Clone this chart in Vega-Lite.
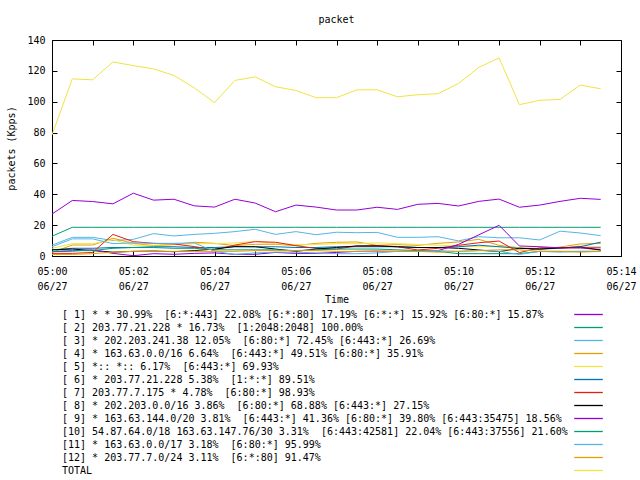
{
  "$schema": "https://vega.github.io/schema/vega-lite/v6.json",
  "width": 569,
  "height": 216,
  "autosize": "none",
  "padding": {"left": 52, "top": 40, "right": 19, "bottom": 224},
  "background": "white",
  "title": {"text": "packet", "fontSize": 10, "fontWeight": "normal", "font": "DejaVu Sans Mono", "color": "black", "offset": 10, "anchor": "middle"},
  "data": {"values": [
      {"t":"2024-06-27T05:00:00","k":1,"v":27.2},{"t":"2024-06-27T05:00:30","k":1,"v":36},{"t":"2024-06-27T05:01:00","k":1,"v":35.3},{"t":"2024-06-27T05:01:30","k":1,"v":33.8},{"t":"2024-06-27T05:02:00","k":1,"v":40.7},{"t":"2024-06-27T05:02:30","k":1,"v":36.2},{"t":"2024-06-27T05:03:00","k":1,"v":36.8},{"t":"2024-06-27T05:03:30","k":1,"v":32.5},{"t":"2024-06-27T05:04:00","k":1,"v":31.7},{"t":"2024-06-27T05:04:30","k":1,"v":36.8},{"t":"2024-06-27T05:05:00","k":1,"v":34.3},{"t":"2024-06-27T05:05:30","k":1,"v":28.7},{"t":"2024-06-27T05:06:00","k":1,"v":33},{"t":"2024-06-27T05:06:30","k":1,"v":31.7},{"t":"2024-06-27T05:07:00","k":1,"v":29.8},{"t":"2024-06-27T05:07:30","k":1,"v":29.8},{"t":"2024-06-27T05:08:00","k":1,"v":31.6},{"t":"2024-06-27T05:08:30","k":1,"v":30.2},{"t":"2024-06-27T05:09:00","k":1,"v":33.5},{"t":"2024-06-27T05:09:30","k":1,"v":34.1},{"t":"2024-06-27T05:10:00","k":1,"v":32.4},{"t":"2024-06-27T05:10:30","k":1,"v":35.4},{"t":"2024-06-27T05:11:00","k":1,"v":36.9},{"t":"2024-06-27T05:11:30","k":1,"v":31.6},{"t":"2024-06-27T05:12:00","k":1,"v":33},{"t":"2024-06-27T05:12:30","k":1,"v":35.4},{"t":"2024-06-27T05:13:00","k":1,"v":37.4},{"t":"2024-06-27T05:13:30","k":1,"v":36.7},
      {"t":"2024-06-27T05:00:00","k":2,"v":12.8},{"t":"2024-06-27T05:00:30","k":2,"v":18.6},{"t":"2024-06-27T05:01:00","k":2,"v":18.6},{"t":"2024-06-27T05:01:30","k":2,"v":18.6},{"t":"2024-06-27T05:02:00","k":2,"v":18.6},{"t":"2024-06-27T05:02:30","k":2,"v":18.6},{"t":"2024-06-27T05:03:00","k":2,"v":18.6},{"t":"2024-06-27T05:03:30","k":2,"v":18.6},{"t":"2024-06-27T05:04:00","k":2,"v":18.6},{"t":"2024-06-27T05:04:30","k":2,"v":18.6},{"t":"2024-06-27T05:05:00","k":2,"v":18.6},{"t":"2024-06-27T05:05:30","k":2,"v":18.6},{"t":"2024-06-27T05:06:00","k":2,"v":18.6},{"t":"2024-06-27T05:06:30","k":2,"v":18.6},{"t":"2024-06-27T05:07:00","k":2,"v":18.6},{"t":"2024-06-27T05:07:30","k":2,"v":18.6},{"t":"2024-06-27T05:08:00","k":2,"v":18.6},{"t":"2024-06-27T05:08:30","k":2,"v":18.6},{"t":"2024-06-27T05:09:00","k":2,"v":18.6},{"t":"2024-06-27T05:09:30","k":2,"v":18.6},{"t":"2024-06-27T05:10:00","k":2,"v":18.6},{"t":"2024-06-27T05:10:30","k":2,"v":18.6},{"t":"2024-06-27T05:11:00","k":2,"v":18.6},{"t":"2024-06-27T05:11:30","k":2,"v":18.6},{"t":"2024-06-27T05:12:00","k":2,"v":18.6},{"t":"2024-06-27T05:12:30","k":2,"v":18.6},{"t":"2024-06-27T05:13:00","k":2,"v":18.6},{"t":"2024-06-27T05:13:30","k":2,"v":18.6},
      {"t":"2024-06-27T05:00:00","k":3,"v":7},{"t":"2024-06-27T05:00:30","k":3,"v":12.1},{"t":"2024-06-27T05:01:00","k":3,"v":12.1},{"t":"2024-06-27T05:01:30","k":3,"v":10},{"t":"2024-06-27T05:02:00","k":3,"v":10.8},{"t":"2024-06-27T05:02:30","k":3,"v":14.5},{"t":"2024-06-27T05:03:00","k":3,"v":13},{"t":"2024-06-27T05:03:30","k":3,"v":14},{"t":"2024-06-27T05:04:00","k":3,"v":14.7},{"t":"2024-06-27T05:04:30","k":3,"v":15.8},{"t":"2024-06-27T05:05:00","k":3,"v":17.3},{"t":"2024-06-27T05:05:30","k":3,"v":14},{"t":"2024-06-27T05:06:00","k":3,"v":15.8},{"t":"2024-06-27T05:06:30","k":3,"v":13.8},{"t":"2024-06-27T05:07:00","k":3,"v":15.4},{"t":"2024-06-27T05:07:30","k":3,"v":15.1},{"t":"2024-06-27T05:08:00","k":3,"v":15.3},{"t":"2024-06-27T05:08:30","k":3,"v":12.1},{"t":"2024-06-27T05:09:00","k":3,"v":12.1},{"t":"2024-06-27T05:09:30","k":3,"v":12.5},{"t":"2024-06-27T05:10:00","k":3,"v":9.8},{"t":"2024-06-27T05:10:30","k":3,"v":12.5},{"t":"2024-06-27T05:11:00","k":3,"v":11.8},{"t":"2024-06-27T05:11:30","k":3,"v":11.8},{"t":"2024-06-27T05:12:00","k":3,"v":10.4},{"t":"2024-06-27T05:12:30","k":3,"v":16.1},{"t":"2024-06-27T05:13:00","k":3,"v":14.9},{"t":"2024-06-27T05:13:30","k":3,"v":13.2},
      {"t":"2024-06-27T05:00:00","k":4,"v":2.3},{"t":"2024-06-27T05:00:30","k":4,"v":7.1},{"t":"2024-06-27T05:01:00","k":4,"v":7.1},{"t":"2024-06-27T05:01:30","k":4,"v":11.5},{"t":"2024-06-27T05:02:00","k":4,"v":8.2},{"t":"2024-06-27T05:02:30","k":4,"v":6.7},{"t":"2024-06-27T05:03:00","k":4,"v":7.4},{"t":"2024-06-27T05:03:30","k":4,"v":8.9},{"t":"2024-06-27T05:04:00","k":4,"v":8.2},{"t":"2024-06-27T05:04:30","k":4,"v":6.7},{"t":"2024-06-27T05:05:00","k":4,"v":7.6},{"t":"2024-06-27T05:05:30","k":4,"v":7.6},{"t":"2024-06-27T05:06:00","k":4,"v":6.7},{"t":"2024-06-27T05:06:30","k":4,"v":8.2},{"t":"2024-06-27T05:07:00","k":4,"v":8.9},{"t":"2024-06-27T05:07:30","k":4,"v":9.1},{"t":"2024-06-27T05:08:00","k":4,"v":6.9},{"t":"2024-06-27T05:08:30","k":4,"v":7.4},{"t":"2024-06-27T05:09:00","k":4,"v":6.9},{"t":"2024-06-27T05:09:30","k":4,"v":8.2},{"t":"2024-06-27T05:10:00","k":4,"v":9.1},{"t":"2024-06-27T05:10:30","k":4,"v":10.8},{"t":"2024-06-27T05:11:00","k":4,"v":6.9},{"t":"2024-06-27T05:11:30","k":4,"v":5.3},{"t":"2024-06-27T05:12:00","k":4,"v":4.3},{"t":"2024-06-27T05:12:30","k":4,"v":5.8},{"t":"2024-06-27T05:13:00","k":4,"v":7.8},{"t":"2024-06-27T05:13:30","k":4,"v":8.2},
      {"t":"2024-06-27T05:00:00","k":5,"v":5},{"t":"2024-06-27T05:00:30","k":5,"v":8},{"t":"2024-06-27T05:01:00","k":5,"v":8},{"t":"2024-06-27T05:01:30","k":5,"v":10.5},{"t":"2024-06-27T05:02:00","k":5,"v":7},{"t":"2024-06-27T05:02:30","k":5,"v":7},{"t":"2024-06-27T05:03:00","k":5,"v":7.5},{"t":"2024-06-27T05:03:30","k":5,"v":8},{"t":"2024-06-27T05:04:00","k":5,"v":8},{"t":"2024-06-27T05:04:30","k":5,"v":8.5},{"t":"2024-06-27T05:05:00","k":5,"v":9.5},{"t":"2024-06-27T05:05:30","k":5,"v":8},{"t":"2024-06-27T05:06:00","k":5,"v":7.5},{"t":"2024-06-27T05:06:30","k":5,"v":7.5},{"t":"2024-06-27T05:07:00","k":5,"v":8},{"t":"2024-06-27T05:07:30","k":5,"v":8},{"t":"2024-06-27T05:08:00","k":5,"v":8.5},{"t":"2024-06-27T05:08:30","k":5,"v":8},{"t":"2024-06-27T05:09:00","k":5,"v":7.5},{"t":"2024-06-27T05:09:30","k":5,"v":7},{"t":"2024-06-27T05:10:00","k":5,"v":6.5},{"t":"2024-06-27T05:10:30","k":5,"v":6},{"t":"2024-06-27T05:11:00","k":5,"v":6},{"t":"2024-06-27T05:11:30","k":5,"v":5.5},{"t":"2024-06-27T05:12:00","k":5,"v":5},{"t":"2024-06-27T05:12:30","k":5,"v":5.5},{"t":"2024-06-27T05:13:00","k":5,"v":6.5},{"t":"2024-06-27T05:13:30","k":5,"v":6},
      {"t":"2024-06-27T05:00:00","k":6,"v":4},{"t":"2024-06-27T05:00:30","k":6,"v":5},{"t":"2024-06-27T05:01:00","k":6,"v":5},{"t":"2024-06-27T05:01:30","k":6,"v":5.5},{"t":"2024-06-27T05:02:00","k":6,"v":5.5},{"t":"2024-06-27T05:02:30","k":6,"v":6},{"t":"2024-06-27T05:03:00","k":6,"v":6},{"t":"2024-06-27T05:03:30","k":6,"v":5.5},{"t":"2024-06-27T05:04:00","k":6,"v":5.5},{"t":"2024-06-27T05:04:30","k":6,"v":6},{"t":"2024-06-27T05:05:00","k":6,"v":6},{"t":"2024-06-27T05:05:30","k":6,"v":6},{"t":"2024-06-27T05:06:00","k":6,"v":5.5},{"t":"2024-06-27T05:06:30","k":6,"v":5.5},{"t":"2024-06-27T05:07:00","k":6,"v":6},{"t":"2024-06-27T05:07:30","k":6,"v":6},{"t":"2024-06-27T05:08:00","k":6,"v":6},{"t":"2024-06-27T05:08:30","k":6,"v":6},{"t":"2024-06-27T05:09:00","k":6,"v":5.5},{"t":"2024-06-27T05:09:30","k":6,"v":5.5},{"t":"2024-06-27T05:10:00","k":6,"v":6},{"t":"2024-06-27T05:10:30","k":6,"v":7},{"t":"2024-06-27T05:11:00","k":6,"v":6},{"t":"2024-06-27T05:11:30","k":6,"v":5},{"t":"2024-06-27T05:12:00","k":6,"v":4.5},{"t":"2024-06-27T05:12:30","k":6,"v":5},{"t":"2024-06-27T05:13:00","k":6,"v":6},{"t":"2024-06-27T05:13:30","k":6,"v":9},
      {"t":"2024-06-27T05:00:00","k":7,"v":1.7},{"t":"2024-06-27T05:00:30","k":7,"v":1.7},{"t":"2024-06-27T05:01:00","k":7,"v":2.3},{"t":"2024-06-27T05:01:30","k":7,"v":14},{"t":"2024-06-27T05:02:00","k":7,"v":9.3},{"t":"2024-06-27T05:02:30","k":7,"v":8.2},{"t":"2024-06-27T05:03:00","k":7,"v":7.8},{"t":"2024-06-27T05:03:30","k":7,"v":6.1},{"t":"2024-06-27T05:04:00","k":7,"v":3.9},{"t":"2024-06-27T05:04:30","k":7,"v":7.1},{"t":"2024-06-27T05:05:00","k":7,"v":9.3},{"t":"2024-06-27T05:05:30","k":7,"v":8.9},{"t":"2024-06-27T05:06:00","k":7,"v":6.7},{"t":"2024-06-27T05:06:30","k":7,"v":4.9},{"t":"2024-06-27T05:07:00","k":7,"v":4.5},{"t":"2024-06-27T05:07:30","k":7,"v":6.5},{"t":"2024-06-27T05:08:00","k":7,"v":6.7},{"t":"2024-06-27T05:08:30","k":7,"v":6},{"t":"2024-06-27T05:09:00","k":7,"v":3.9},{"t":"2024-06-27T05:09:30","k":7,"v":5},{"t":"2024-06-27T05:10:00","k":7,"v":6.9},{"t":"2024-06-27T05:10:30","k":7,"v":8.6},{"t":"2024-06-27T05:11:00","k":7,"v":9.7},{"t":"2024-06-27T05:11:30","k":7,"v":2.2},{"t":"2024-06-27T05:12:00","k":7,"v":5.3},{"t":"2024-06-27T05:12:30","k":7,"v":5.3},{"t":"2024-06-27T05:13:00","k":7,"v":5.3},{"t":"2024-06-27T05:13:30","k":7,"v":3.9},
      {"t":"2024-06-27T05:00:00","k":8,"v":4},{"t":"2024-06-27T05:00:30","k":8,"v":4.5},{"t":"2024-06-27T05:01:00","k":8,"v":3.5},{"t":"2024-06-27T05:01:30","k":8,"v":2.5},{"t":"2024-06-27T05:02:00","k":8,"v":3},{"t":"2024-06-27T05:02:30","k":8,"v":3.2},{"t":"2024-06-27T05:03:00","k":8,"v":2.8},{"t":"2024-06-27T05:03:30","k":8,"v":3.5},{"t":"2024-06-27T05:04:00","k":8,"v":4.5},{"t":"2024-06-27T05:04:30","k":8,"v":6.1},{"t":"2024-06-27T05:05:00","k":8,"v":6},{"t":"2024-06-27T05:05:30","k":8,"v":4.5},{"t":"2024-06-27T05:06:00","k":8,"v":3},{"t":"2024-06-27T05:06:30","k":8,"v":4.5},{"t":"2024-06-27T05:07:00","k":8,"v":5.5},{"t":"2024-06-27T05:07:30","k":8,"v":6.5},{"t":"2024-06-27T05:08:00","k":8,"v":6.5},{"t":"2024-06-27T05:08:30","k":8,"v":6},{"t":"2024-06-27T05:09:00","k":8,"v":5.5},{"t":"2024-06-27T05:09:30","k":8,"v":5.5},{"t":"2024-06-27T05:10:00","k":8,"v":5},{"t":"2024-06-27T05:10:30","k":8,"v":3.9},{"t":"2024-06-27T05:11:00","k":8,"v":2.8},{"t":"2024-06-27T05:11:30","k":8,"v":5},{"t":"2024-06-27T05:12:00","k":8,"v":4.5},{"t":"2024-06-27T05:12:30","k":8,"v":5.3},{"t":"2024-06-27T05:13:00","k":8,"v":5.8},{"t":"2024-06-27T05:13:30","k":8,"v":3.9},
      {"t":"2024-06-27T05:00:00","k":9,"v":2.8},{"t":"2024-06-27T05:00:30","k":9,"v":3.2},{"t":"2024-06-27T05:01:00","k":9,"v":4},{"t":"2024-06-27T05:01:30","k":9,"v":1.7},{"t":"2024-06-27T05:02:00","k":9,"v":0.2},{"t":"2024-06-27T05:02:30","k":9,"v":1.5},{"t":"2024-06-27T05:03:00","k":9,"v":1.1},{"t":"2024-06-27T05:03:30","k":9,"v":1.7},{"t":"2024-06-27T05:04:00","k":9,"v":2},{"t":"2024-06-27T05:04:30","k":9,"v":1.1},{"t":"2024-06-27T05:05:00","k":9,"v":1.1},{"t":"2024-06-27T05:05:30","k":9,"v":2.3},{"t":"2024-06-27T05:06:00","k":9,"v":1.7},{"t":"2024-06-27T05:06:30","k":9,"v":1.7},{"t":"2024-06-27T05:07:00","k":9,"v":2.3},{"t":"2024-06-27T05:07:30","k":9,"v":3},{"t":"2024-06-27T05:08:00","k":9,"v":3.2},{"t":"2024-06-27T05:08:30","k":9,"v":3},{"t":"2024-06-27T05:09:00","k":9,"v":3.2},{"t":"2024-06-27T05:09:30","k":9,"v":3.5},{"t":"2024-06-27T05:10:00","k":9,"v":7.5},{"t":"2024-06-27T05:10:30","k":9,"v":13.7},{"t":"2024-06-27T05:11:00","k":9,"v":19.9},{"t":"2024-06-27T05:11:30","k":9,"v":6.5},{"t":"2024-06-27T05:12:00","k":9,"v":6},{"t":"2024-06-27T05:12:30","k":9,"v":5.3},{"t":"2024-06-27T05:13:00","k":9,"v":5.3},{"t":"2024-06-27T05:13:30","k":9,"v":5.3},
      {"t":"2024-06-27T05:00:00","k":10,"v":3},{"t":"2024-06-27T05:00:30","k":10,"v":3.5},{"t":"2024-06-27T05:01:00","k":10,"v":3.5},{"t":"2024-06-27T05:01:30","k":10,"v":5},{"t":"2024-06-27T05:02:00","k":10,"v":5.5},{"t":"2024-06-27T05:02:30","k":10,"v":5.5},{"t":"2024-06-27T05:03:00","k":10,"v":5},{"t":"2024-06-27T05:03:30","k":10,"v":5},{"t":"2024-06-27T05:04:00","k":10,"v":4},{"t":"2024-06-27T05:04:30","k":10,"v":4},{"t":"2024-06-27T05:05:00","k":10,"v":4},{"t":"2024-06-27T05:05:30","k":10,"v":4},{"t":"2024-06-27T05:06:00","k":10,"v":3.5},{"t":"2024-06-27T05:06:30","k":10,"v":4},{"t":"2024-06-27T05:07:00","k":10,"v":4.5},{"t":"2024-06-27T05:07:30","k":10,"v":4.5},{"t":"2024-06-27T05:08:00","k":10,"v":4.5},{"t":"2024-06-27T05:08:30","k":10,"v":4},{"t":"2024-06-27T05:09:00","k":10,"v":3.5},{"t":"2024-06-27T05:09:30","k":10,"v":3},{"t":"2024-06-27T05:10:00","k":10,"v":1.5},{"t":"2024-06-27T05:10:30","k":10,"v":1.5},{"t":"2024-06-27T05:11:00","k":10,"v":1.5},{"t":"2024-06-27T05:11:30","k":10,"v":1.5},{"t":"2024-06-27T05:12:00","k":10,"v":3},{"t":"2024-06-27T05:12:30","k":10,"v":3},{"t":"2024-06-27T05:13:00","k":10,"v":3},{"t":"2024-06-27T05:13:30","k":10,"v":3},
      {"t":"2024-06-27T05:00:00","k":11,"v":6},{"t":"2024-06-27T05:00:30","k":11,"v":11.1},{"t":"2024-06-27T05:01:00","k":11,"v":11.1},{"t":"2024-06-27T05:01:30","k":11,"v":8},{"t":"2024-06-27T05:02:00","k":11,"v":8.5},{"t":"2024-06-27T05:02:30","k":11,"v":8.2},{"t":"2024-06-27T05:03:00","k":11,"v":8.2},{"t":"2024-06-27T05:03:30","k":11,"v":8.5},{"t":"2024-06-27T05:04:00","k":11,"v":3},{"t":"2024-06-27T05:04:30","k":11,"v":1},{"t":"2024-06-27T05:05:00","k":11,"v":2},{"t":"2024-06-27T05:05:30","k":11,"v":2.5},{"t":"2024-06-27T05:06:00","k":11,"v":2.5},{"t":"2024-06-27T05:06:30","k":11,"v":2},{"t":"2024-06-27T05:07:00","k":11,"v":1.5},{"t":"2024-06-27T05:07:30","k":11,"v":1.5},{"t":"2024-06-27T05:08:00","k":11,"v":2},{"t":"2024-06-27T05:08:30","k":11,"v":3},{"t":"2024-06-27T05:09:00","k":11,"v":3},{"t":"2024-06-27T05:09:30","k":11,"v":3.5},{"t":"2024-06-27T05:10:00","k":11,"v":3},{"t":"2024-06-27T05:10:30","k":11,"v":3.5},{"t":"2024-06-27T05:11:00","k":11,"v":3},{"t":"2024-06-27T05:11:30","k":11,"v":1},{"t":"2024-06-27T05:12:00","k":11,"v":3},{"t":"2024-06-27T05:12:30","k":11,"v":2.5},{"t":"2024-06-27T05:13:00","k":11,"v":3},{"t":"2024-06-27T05:13:30","k":11,"v":3},
      {"t":"2024-06-27T05:00:00","k":12,"v":1},{"t":"2024-06-27T05:00:30","k":12,"v":1},{"t":"2024-06-27T05:01:00","k":12,"v":1.5},{"t":"2024-06-27T05:01:30","k":12,"v":2.5},{"t":"2024-06-27T05:02:00","k":12,"v":3},{"t":"2024-06-27T05:02:30","k":12,"v":3},{"t":"2024-06-27T05:03:00","k":12,"v":3},{"t":"2024-06-27T05:03:30","k":12,"v":3},{"t":"2024-06-27T05:04:00","k":12,"v":3},{"t":"2024-06-27T05:04:30","k":12,"v":3},{"t":"2024-06-27T05:05:00","k":12,"v":3.5},{"t":"2024-06-27T05:05:30","k":12,"v":3.5},{"t":"2024-06-27T05:06:00","k":12,"v":3.5},{"t":"2024-06-27T05:06:30","k":12,"v":3.5},{"t":"2024-06-27T05:07:00","k":12,"v":3},{"t":"2024-06-27T05:07:30","k":12,"v":3},{"t":"2024-06-27T05:08:00","k":12,"v":3},{"t":"2024-06-27T05:08:30","k":12,"v":3},{"t":"2024-06-27T05:09:00","k":12,"v":3},{"t":"2024-06-27T05:09:30","k":12,"v":2.5},{"t":"2024-06-27T05:10:00","k":12,"v":3},{"t":"2024-06-27T05:10:30","k":12,"v":3.5},{"t":"2024-06-27T05:11:00","k":12,"v":4},{"t":"2024-06-27T05:11:30","k":12,"v":4},{"t":"2024-06-27T05:12:00","k":12,"v":3},{"t":"2024-06-27T05:12:30","k":12,"v":3},{"t":"2024-06-27T05:13:00","k":12,"v":2.5},{"t":"2024-06-27T05:13:30","k":12,"v":3},
      {"t":"2024-06-27T05:00:00","k":13,"v":78.5},{"t":"2024-06-27T05:00:30","k":13,"v":114.8},{"t":"2024-06-27T05:01:00","k":13,"v":114.2},{"t":"2024-06-27T05:01:30","k":13,"v":125.8},{"t":"2024-06-27T05:02:00","k":13,"v":123.4},{"t":"2024-06-27T05:02:30","k":13,"v":121.3},{"t":"2024-06-27T05:03:00","k":13,"v":117},{"t":"2024-06-27T05:03:30","k":13,"v":109},{"t":"2024-06-27T05:04:00","k":13,"v":99.4},{"t":"2024-06-27T05:04:30","k":13,"v":113.8},{"t":"2024-06-27T05:05:00","k":13,"v":116.1},{"t":"2024-06-27T05:05:30","k":13,"v":109.7},{"t":"2024-06-27T05:06:00","k":13,"v":107.3},{"t":"2024-06-27T05:06:30","k":13,"v":102.6},{"t":"2024-06-27T05:07:00","k":13,"v":102.6},{"t":"2024-06-27T05:07:30","k":13,"v":107.7},{"t":"2024-06-27T05:08:00","k":13,"v":107.7},{"t":"2024-06-27T05:08:30","k":13,"v":103.2},{"t":"2024-06-27T05:09:00","k":13,"v":104.5},{"t":"2024-06-27T05:09:30","k":13,"v":105.2},{"t":"2024-06-27T05:10:00","k":13,"v":111.8},{"t":"2024-06-27T05:10:30","k":13,"v":122.2},{"t":"2024-06-27T05:11:00","k":13,"v":128.4},{"t":"2024-06-27T05:11:30","k":13,"v":98.1},{"t":"2024-06-27T05:12:00","k":13,"v":100.9},{"t":"2024-06-27T05:12:30","k":13,"v":101.5},{"t":"2024-06-27T05:13:00","k":13,"v":110.8},{"t":"2024-06-27T05:13:30","k":13,"v":108.4}
  ]},
  "layer": [
    {
      "mark": {"type": "line", "strokeWidth": 1},
      "encoding": {
        "x": {
          "field": "t", "type": "temporal",
          "scale": {"domain": [{"year": 2024, "month": 6, "date": 27, "hours": 5, "minutes": 0}, {"year": 2024, "month": 6, "date": 27, "hours": 5, "minutes": 14}]},
          "axis": {
            "orient": "bottom",
            "tickCount": 15,
            "labelExpr": "minutes(datum.value) % 2 == 0 ? [timeFormat(datum.value, '%H:%M'), timeFormat(datum.value, '%m/%d')] : ''",
            "labelOverlap": false, "labelFlush": false, "labelBound": false,
            "labelAlign": "center", "labelBaseline": "top", "labelLineHeight": 15,
            "labelPadding": 15,
            "title": "Time", "titlePadding": 3
          }
        },
        "y": {
          "field": "v", "type": "quantitative",
          "scale": {"domain": [0, 140], "nice": false, "zero": true},
          "axis": {
            "orient": "left",
            "values": [0, 20, 40, 60, 80, 100, 120, 140],
            "labelPadding": 12,
            "title": "packets (Kpps)", "titlePadding": 10
          }
        },
        "color": {
          "field": "k", "type": "nominal",
          "scale": {"domain": [1, 2, 3, 4, 5, 6, 7, 8, 9, 10, 11, 12, 13], "range": ["#9400d3", "#009e73", "#56b4e9", "#e69f00", "#f0e442", "#0072b2", "#e51e10", "#000000", "#9400d3", "#009e73", "#56b4e9", "#e69f00", "#f0e442"]},
          "legend": {
            "orient": "none", "legendX": 529, "legendY": 267,
            "title": null, "symbolType": "M-2.2,0H2.2", "symbolSize": 169, "symbolStrokeWidth": 1.3,
            "symbolOffset": 0, "labelOffset": -534, "rowPadding": 0,
            "padding": 0, "labelLimit": 700, "labelFontSize": 10, "labelFont": "DejaVu Sans Mono", "labelColor": "black",
            "labelExpr": "['[ 1] * * 30.99%\u00a0 [6:*:443] 22.08% [6:*:80] 17.19% [6:*:*] 15.92% [6:80:*] 15.87%', '[ 2] 203.77.21.228 * 16.73%\u00a0 [1:2048:2048] 100.00%', '[ 3] * 202.203.241.38 12.05%\u00a0 [6:80:*] 72.45% [6:443:*] 26.69%', '[ 4] * 163.63.0.0/16 6.64%\u00a0 [6:443:*] 49.51% [6:80:*] 35.91%', '[ 5] *:: *:: 6.17%\u00a0 [6:443:*] 69.93%', '[ 6] * 203.77.21.228 5.38%\u00a0 [1:*:*] 89.51%', '[ 7] 203.77.7.175 * 4.78%\u00a0 [6:80:*] 98.93%', '[ 8] * 202.203.0.0/16 3.86%\u00a0 [6:80:*] 68.88% [6:443:*] 27.15%', '[ 9] * 163.63.144.0/20 3.81%\u00a0 [6:443:*] 41.36% [6:80:*] 39.80% [6:443:35475] 18.56%', '[10] 54.87.64.0/18 163.63.147.76/30 3.31%\u00a0 [6:443:42581] 22.04% [6:443:37556] 21.60%', '[11] * 163.63.0.0/17 3.18%\u00a0 [6:80:*] 95.99%', '[12] * 203.77.7.0/24 3.11%\u00a0 [6:*:80] 91.47%', 'TOTAL'][datum.value - 1]"
          }
        }
      }
    },
    {
      "mark": {"type": "point", "opacity": 0},
      "encoding": {
        "x": {"field": "t", "type": "temporal", "axis": {"orient": "top", "labels": false, "title": null, "tickCount": 15}},
        "y": {"field": "v", "type": "quantitative", "axis": {"orient": "right", "labels": false, "title": null, "values": [0, 20, 40, 60, 80, 100, 120, 140]}}
      }
    }
  ],
  "resolve": {"axis": {"x": "independent", "y": "independent"}},
  "config": {
    "font": "DejaVu Sans Mono",
    "view": {"stroke": "black", "strokeWidth": 1},
    "axis": {
      "labelFont": "DejaVu Sans Mono", "labelFontSize": 10, "labelColor": "black",
      "titleFont": "DejaVu Sans Mono", "titleFontSize": 10, "titleFontWeight": "normal", "titleColor": "black",
      "tickColor": "black", "tickSize": -5, "tickWidth": 1, "domain": false, "grid": false
    }
  }
}
